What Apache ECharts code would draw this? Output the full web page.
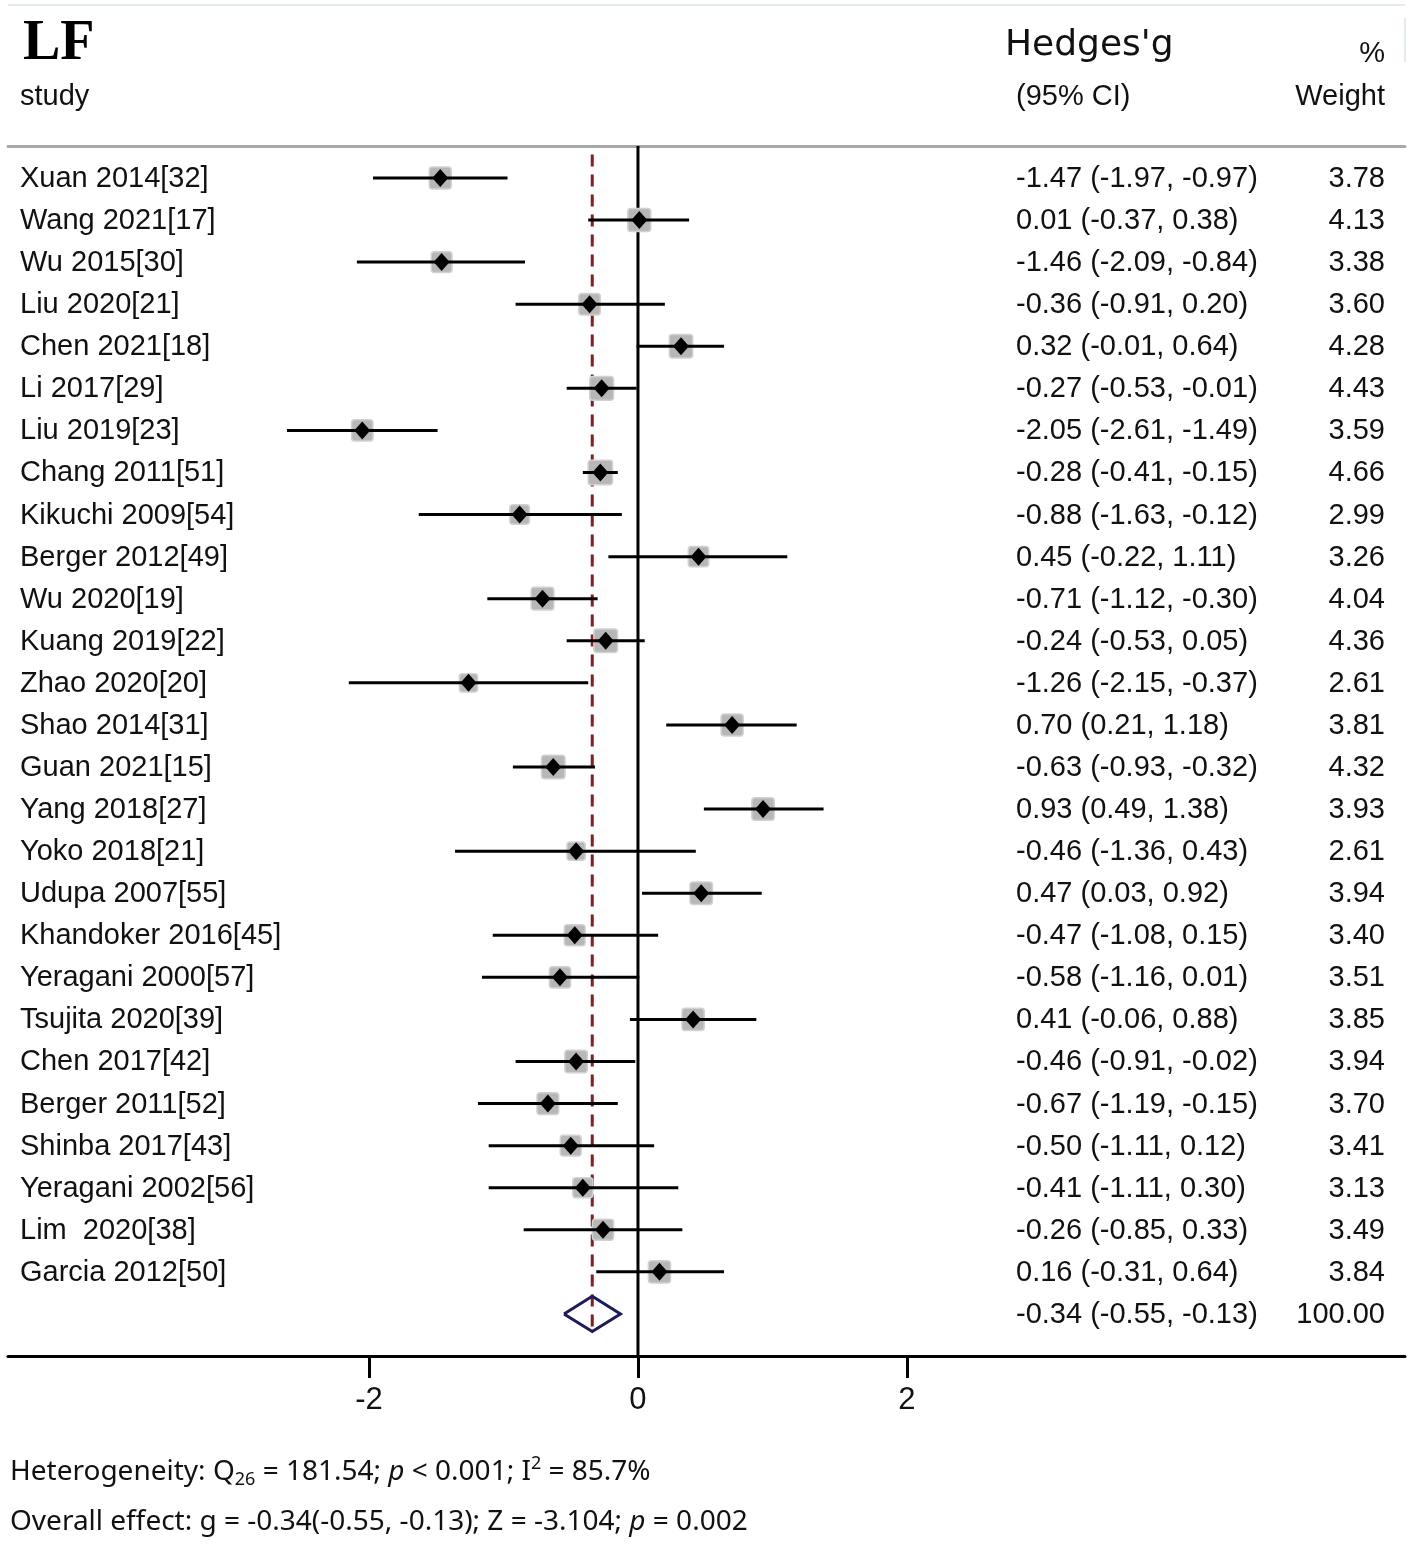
<!DOCTYPE html>
<html lang="en">
<head>
    <meta charset="UTF-8">
    <title>LF forest plot</title>
    <style>
        * { margin: 0; padding: 0; }
        body { background: #fff; }
        .chart { width: 1417px; height: 1544px; }
    </style>
    <script src="https://cdn.jsdelivr.net/npm/echarts@6/dist/echarts.min.js"></script>
</head>
<body>
    <div class="chart"></div>
    <script>
        // study data
        var studies = ["Xuan 2014[32]", "Wang 2021[17]", "Wu 2015[30]", "Liu 2020[21]", "Chen 2021[18]",
            "Li 2017[29]", "Liu 2019[23]", "Chang 2011[51]", "Kikuchi 2009[54]", "Berger 2012[49]",
            "Wu 2020[19]", "Kuang 2019[22]", "Zhao 2020[20]", "Shao 2014[31]", "Guan 2021[15]",
            "Yang 2018[27]", "Yoko 2018[21]", "Udupa 2007[55]", "Khandoker 2016[45]", "Yeragani 2000[57]",
            "Tsujita 2020[39]", "Chen 2017[42]", "Berger 2011[52]", "Shinba 2017[43]", "Yeragani 2002[56]",
            "Lim  2020[38]", "Garcia 2012[50]"];
        var estimates = [-1.47, 0.01, -1.46, -0.36, 0.32, -0.27, -2.05, -0.28, -0.88, 0.45,
            -0.71, -0.24, -1.26, 0.70, -0.63, 0.93, -0.46, 0.47, -0.47, -0.58,
            0.41, -0.46, -0.67, -0.50, -0.41, -0.26, 0.16];
        var lowers = [-1.97, -0.37, -2.09, -0.91, -0.01, -0.53, -2.61, -0.41, -1.63, -0.22,
            -1.12, -0.53, -2.15, 0.21, -0.93, 0.49, -1.36, 0.03, -1.08, -1.16,
            -0.06, -0.91, -1.19, -1.11, -1.11, -0.85, -0.31];
        var uppers = [-0.97, 0.38, -0.84, 0.20, 0.64, -0.01, -1.49, -0.15, -0.12, 1.11,
            -0.30, 0.05, -0.37, 1.18, -0.32, 1.38, 0.43, 0.92, 0.15, 0.01,
            0.88, -0.02, -0.15, 0.12, 0.30, 0.33, 0.64];
        var weights = [3.78, 4.13, 3.38, 3.60, 4.28, 4.43, 3.59, 4.66, 2.99, 3.26,
            4.04, 4.36, 2.61, 3.81, 4.32, 3.93, 2.61, 3.94, 3.40, 3.51,
            3.85, 3.94, 3.70, 3.41, 3.13, 3.49, 3.84];
        var pooledEst = -0.34;
        var pooledLo = -0.55;
        var pooledHi = -0.13;
        var pooledWeight = 100;
        var xTicks = [-2, 0, 2];

        var textFont = '29px "Liberation Sans", Arial, sans-serif';
        var footFont = '28px "Noto Sans", sans-serif';

        var chart = echarts.init(document.querySelector(".chart"));

        // row index on the y axis, pooled row comes last
        var pooledRow = studies.length;
        var yMin = -0.76, yMax = pooledRow + 1;

        var studyData = studies.map(function (name, i) {
            return [i, estimates[i], lowers[i], uppers[i], weights[i]];
        });
        var textData = studies.map(function (name, i) {
            return { value: [i], name: name, ci: fmtCI(estimates[i], lowers[i], uppers[i]), w: weights[i].toFixed(2) };
        });
        textData.push({ value: [pooledRow], name: "", ci: fmtCI(pooledEst, pooledLo, pooledHi), w: pooledWeight.toFixed(2) });

        function fmtCI(e, l, h) {
            return e.toFixed(2) + " (" + l.toFixed(2) + ", " + h.toFixed(2) + ")";
        }

        function renderStudy(params, api) {
            var i = api.value(0);
            var p = api.coord([api.value(1), i]);
            var pLo = api.coord([api.value(2), i]);
            var pHi = api.coord([api.value(3), i]);
            var size = 11.3 * Math.sqrt(api.value(4));
            return {
                type: "group",
                children: [
                    { type: "rect", shape: { x: p[0] - size / 2, y: p[1] - size / 2, width: size, height: size, r: 3 },
                      style: { fill: "#b7b7b7", stroke: "#d2d2d2", lineWidth: 1.5 } },
                    { type: "line", shape: { x1: pLo[0], y1: pLo[1], x2: pHi[0], y2: pHi[1] },
                      style: { stroke: "#000", lineWidth: 3 } },
                    { type: "polygon", shape: { points: [[p[0] - 8, p[1]], [p[0], p[1] - 9], [p[0] + 8, p[1]], [p[0], p[1] + 9]] },
                      style: { fill: "#000" } }
                ]
            };
        }

        function renderText(params, api) {
            var d = textData[params.dataIndex];
            var y = api.coord([0, api.value(0)])[1] + 1;
            return {
                type: "group",
                children: [
                    { type: "text", x: 20, y: y, style: { text: d.name, font: textFont, fill: "#111", align: "left", verticalAlign: "middle" } },
                    { type: "text", x: 1016, y: y, style: { text: d.ci, font: textFont, fill: "#111", align: "left", verticalAlign: "middle" } },
                    { type: "text", x: 1385, y: y, style: { text: d.w, font: textFont, fill: "#111", align: "right", verticalAlign: "middle" } }
                ]
            };
        }

        var option = {
            animation: false,
            backgroundColor: "#fff",
            grid: { left: 8, right: 12, top: 146, bottom: 188 },
            xAxis: [{
                type: "value",
                position: "bottom",
                min: -4.684,
                max: 5.703,
                splitLine: { show: false },
                axisLine: { onZero: false, lineStyle: { color: "#000", width: 3 } },
                axisTick: { customValues: xTicks, length: 22, lineStyle: { color: "#000", width: 3 } },
                axisLabel: { customValues: xTicks, fontSize: 31, color: "#111", margin: 29,
                    fontFamily: '"Liberation Sans", Arial, sans-serif' }
            }, {
                type: "value",
                position: "top",
                min: -4.684,
                max: 5.703,
                splitLine: { show: false },
                axisLine: { onZero: false, lineStyle: { color: "#a8a8a8", width: 3 } },
                axisTick: { show: false },
                axisLabel: { show: false }
            }],
            yAxis: {
                type: "value",
                inverse: true,
                min: yMin,
                max: yMax,
                show: false
            },
            graphic: [
                { type: "line", shape: { x1: 8, y1: 5, x2: 1405, y2: 5 }, style: { stroke: "#e2ecef", lineWidth: 2 } },
                { type: "line", shape: { x1: 1405, y1: 18, x2: 1405, y2: 62 }, style: { stroke: "#e2ecef", lineWidth: 2 } },
                { type: "text", x: 23, y: 45, style: { text: "LF", font: 'bold 56px "Liberation Serif", "Times New Roman", serif', fill: "#000", verticalAlign: "middle" } },
                { type: "text", x: 20, y: 97, style: { text: "study", font: textFont, fill: "#111", verticalAlign: "middle" } },
                { type: "text", x: 1005, y: 46, style: { text: "Hedges'g", font: '36px "DejaVu Sans", sans-serif', fill: "#111", verticalAlign: "middle" } },
                { type: "text", x: 1016, y: 97, style: { text: "(95% CI)", font: textFont, fill: "#111", verticalAlign: "middle" } },
                { type: "text", x: 1385, y: 54, style: { text: "%", font: textFont, fill: "#111", align: "right", verticalAlign: "middle" } },
                { type: "text", x: 1385, y: 97, style: { text: "Weight", font: textFont, fill: "#111", align: "right", verticalAlign: "middle" } },
                { type: "text", x: 10, y: 1472, style: {
                    text: "Heterogeneity: Q{sub|26} = 181.54; {it|p} < 0.001; I{sup|2} = 85.7%",
                    font: footFont, fill: "#111", verticalAlign: "middle",
                    rich: {
                        sub: { font: '18px "Noto Sans", sans-serif', fill: "#111", verticalAlign: "bottom", lineHeight: 34 },
                        sup: { font: '18px "Noto Sans", sans-serif', fill: "#111", verticalAlign: "top", lineHeight: 34 },
                        it: { font: 'italic 28px "Noto Sans", sans-serif', fill: "#111" }
                    }
                } },
                { type: "text", x: 10, y: 1522, style: {
                    text: "Overall effect: g = -0.34(-0.55, -0.13); Z = -3.104; {it|p} = 0.002",
                    font: footFont, fill: "#111", verticalAlign: "middle",
                    rich: {
                        it: { font: 'italic 28px "Noto Sans", sans-serif', fill: "#111" }
                    }
                } }
            ],
            series: [
                {
                    // line of no effect
                    type: "line",
                    data: [[0, yMin], [0, yMax]],
                    symbol: "none",
                    silent: true,
                    lineStyle: { color: "#000", width: 3 },
                    z: 1
                },
                {
                    // pooled estimate
                    type: "line",
                    data: [[pooledEst, yMin + 0.2], [pooledEst, yMax - 0.55]],
                    symbol: "none",
                    silent: true,
                    lineStyle: { color: "#8b1a1a", width: 3, type: [12, 8] },
                    z: 2
                },
                {
                    type: "custom",
                    data: studyData,
                    renderItem: renderStudy,
                    encode: { x: [1, 2, 3], y: 0 },
                    z: 3
                },
                {
                    // pooled diamond
                    type: "line",
                    data: [[pooledLo, pooledRow], [pooledEst, pooledRow - 0.42], [pooledHi, pooledRow],
                        [pooledEst, pooledRow + 0.42], [pooledLo, pooledRow]],
                    symbol: "none",
                    silent: true,
                    lineStyle: { color: "#1c1c5c", width: 3, join: "miter" },
                    z: 4
                },
                {
                    type: "custom",
                    data: textData,
                    renderItem: renderText,
                    encode: { y: 0 },
                    clip: false,
                    z: 5
                }
            ]
        };
        chart.setOption(option);
    </script>
</body>
</html>
